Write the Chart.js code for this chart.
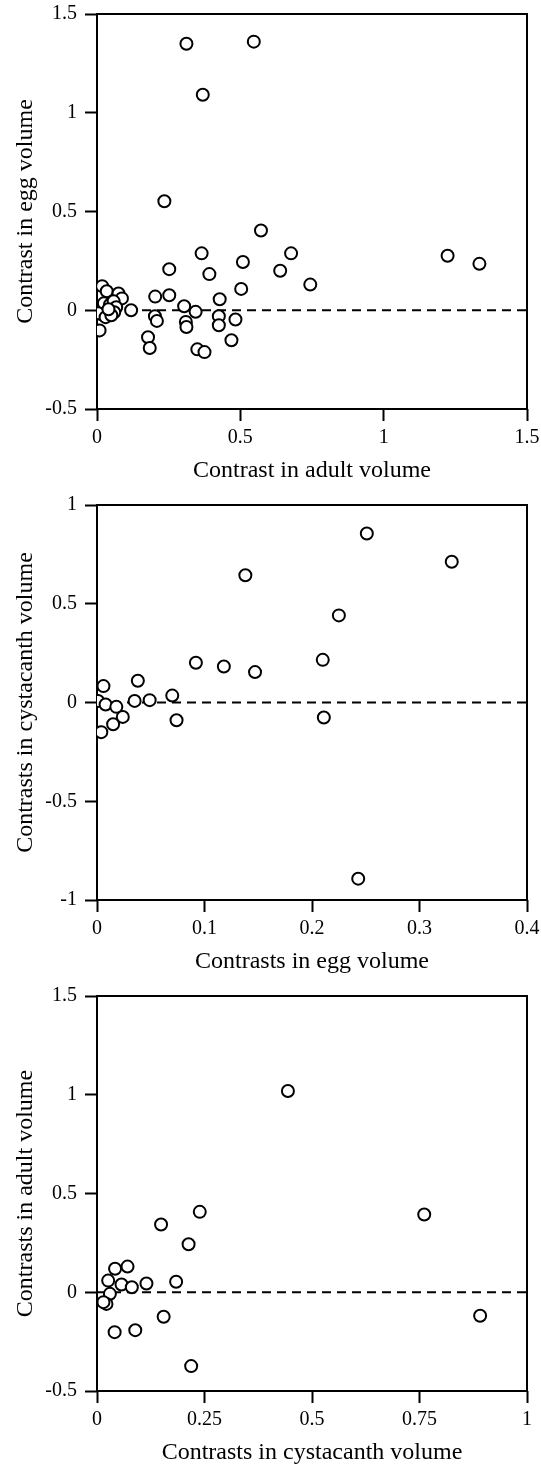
<!DOCTYPE html>
<html>
<head>
<meta charset="utf-8">
<script src="https://cdn.jsdelivr.net/npm/chart.js@4.4.1/dist/chart.umd.min.js"></script>
<style>
    html, body { margin: 0; padding: 0; background: #fff; }
    .box { position: relative; width: 541px; height: 491px; }
</style>
</head>
<body>
<div class="box"><canvas id="adultEggChart"></canvas></div>
<div class="box"><canvas id="eggCystChart"></canvas></div>
<div class="box"><canvas id="cystAdultChart"></canvas></div>
<script>
'use strict'

// panel 1: contrast in adult volume (x) vs contrast in egg volume (y)
var adultX1 = [0.312, 0.547, 0.369, 0.235, 0.572, 0.365, 0.677, 0.509, 1.223, 1.334,
    0.252, 0.392, 0.639, 0.744, 0.503, 0.428, 0.252, 0.203, 0.304, 0.344,
    0.119, 0.202, 0.209, 0.310, 0.312, 0.425, 0.425, 0.483, 0.178, 0.184,
    0.350, 0.375, 0.469, 0.009, 0.018, 0.034, 0.075, 0.087, 0.024, 0.045,
    0.058, 0.067, 0.060, 0.016, 0.004, 0.030, 0.050, 0.040]
var eggY1 = [1.349, 1.360, 1.091, 0.552, 0.404, 0.288, 0.288, 0.244, 0.276, 0.235,
    0.208, 0.183, 0.200, 0.130, 0.108, 0.056, 0.076, 0.069, 0.020, -0.008,
    0.000, -0.030, -0.054, -0.059, -0.085, -0.030, -0.076, -0.047, -0.137, -0.191,
    -0.198, -0.212, -0.152, -0.102, 0.122, 0.096, 0.085, 0.060, 0.035, 0.028,
    0.045, 0.015, -0.010, -0.020, -0.015, -0.035, -0.025, 0.005]
var xTicks1 = [0, 0.5, 1, 1.5]
var yTicks1 = [-0.5, 0, 0.5, 1, 1.5]

// panel 2: contrasts in egg volume (x) vs contrasts in cystacanth volume (y)
var eggX2 = [0.251, 0.330, 0.138, 0.225, 0.092, 0.118, 0.147, 0.210, 0.211, 0.243,
    0.038, 0.049, 0.035, 0.070, 0.074, 0.006, 0.001, 0.008, 0.018, 0.024,
    0.015, 0.004]
var cystY2 = [0.856, 0.713, 0.644, 0.441, 0.201, 0.182, 0.154, 0.216, -0.076, -0.892,
    0.110, 0.012, 0.008, 0.035, -0.090, 0.083, 0.008, -0.010, -0.022, -0.073,
    -0.110, -0.150]
var xTicks2 = [0, 0.1, 0.2, 0.3, 0.4]
var yTicks2 = [-1, -0.5, 0, 0.5, 1]

// panel 3: contrasts in cystacanth volume (x) vs contrasts in adult volume (y)
var cystX3 = [0.444, 0.761, 0.891, 0.239, 0.149, 0.213, 0.184, 0.115, 0.155, 0.219,
    0.089, 0.041, 0.071, 0.042, 0.026, 0.057, 0.081, 0.030, 0.022, 0.015]
var adultY3 = [1.019, 0.394, -0.119, 0.407, 0.343, 0.243, 0.053, 0.044, -0.124, -0.374,
    -0.192, -0.202, 0.130, 0.119, 0.059, 0.039, 0.025, -0.008, -0.059, -0.050]
var xTicks3 = [0, 0.25, 0.5, 0.75, 1]
var yTicks3 = [-0.5, 0, 0.5, 1, 1.5]

var serif = '"Liberation Serif", "Times New Roman", serif'

// draws the box round the plot area
var framePlugin = {
    id: 'frame',
    beforeDatasetsDraw: function (chart) {
        var a = chart.chartArea
        var ctx = chart.ctx
        ctx.save()
        ctx.strokeStyle = '#000'
        ctx.lineWidth = 2
        ctx.strokeRect(a.left, a.top, a.right - a.left, a.bottom - a.top)
        ctx.restore()
    }
}

function axis(ticks, title, isX) {
    return {
        type: 'linear',
        position: isX ? 'bottom' : 'left',
        min: ticks[0],
        max: ticks[ticks.length - 1],
        afterBuildTicks: function (scale) {
            scale.ticks = ticks.map(function (v) { return { value: v } })
        },
        afterFit: function (scale) {
            if (isX) scale.height = 82
            else scale.width = 97
            // keep the plot box fixed, labels may hang over the padding
            scale.paddingLeft = 0
            scale.paddingRight = 0
            scale.paddingTop = 0
            scale.paddingBottom = 0
        },
        grid: {
            drawOnChartArea: false,
            drawTicks: true,
            tickLength: 12,
            tickWidth: 2,
            tickColor: '#000'
        },
        border: { display: false },
        ticks: {
            color: '#000',
            padding: isX ? 5 : 8,
            font: { family: serif, size: 20 },
            callback: function (v) { return String(v) }
        },
        title: {
            display: true,
            text: title,
            color: '#000',
            font: { family: serif, size: 24 },
            padding: isX ? { top: 0, bottom: 6 } : { top: 11, bottom: 0 }
        }
    }
}

function scatterPanel(id, xs, ys, xTicks, yTicks, xTitle, yTitle) {
    var ctx = document.getElementById(id).getContext('2d')
    var pts = xs.map(function (x, i) { return { x: x, y: ys[i] } })

    new Chart(ctx, {
        type: 'scatter',
        data: {
            datasets: [{
                data: pts,
                order: 0,
                pointRadius: 6,
                pointBorderWidth: 2,
                pointBackgroundColor: '#fff',
                pointBorderColor: '#000'
            }, {
                type: 'line',
                order: 1,
                data: [{ x: xTicks[0], y: 0 }, { x: xTicks[xTicks.length - 1], y: 0 }],
                borderColor: '#000',
                borderWidth: 2,
                borderDash: [9, 6],
                pointRadius: 0,
                fill: false
            }]
        },
        options: {
            responsive: true,
            maintainAspectRatio: false,
            animation: false,
            layout: { padding: { top: 14, right: 14, left: 0, bottom: 0 } },
            plugins: {
                legend: { display: false },
                tooltip: { enabled: false }
            },
            scales: {
                x: axis(xTicks, xTitle, true),
                y: axis(yTicks, yTitle, false)
            }
        },
        plugins: [framePlugin]
    })
}

scatterPanel('adultEggChart', adultX1, eggY1, xTicks1, yTicks1,
    'Contrast in adult volume', 'Contrast in egg volume')
scatterPanel('eggCystChart', eggX2, cystY2, xTicks2, yTicks2,
    'Contrasts in egg volume', 'Contrasts in cystacanth volume')
scatterPanel('cystAdultChart', cystX3, adultY3, xTicks3, yTicks3,
    'Contrasts in cystacanth volume', 'Contrasts in adult volume')
</script>
</body>
</html>
